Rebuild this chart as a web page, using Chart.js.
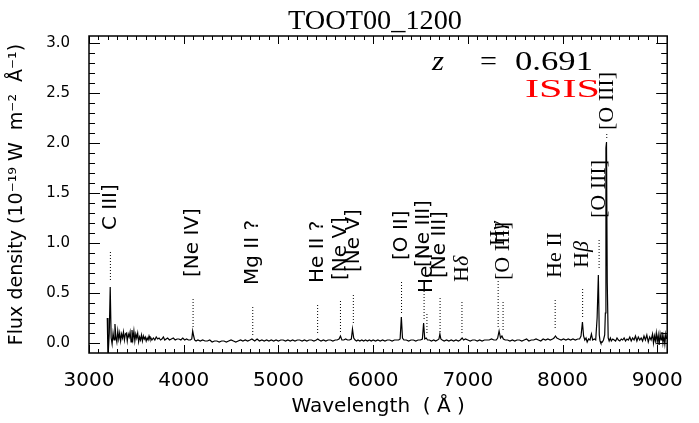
<!DOCTYPE html>
<html>
<head>
<meta charset="utf-8">
<script src="https://cdn.jsdelivr.net/npm/chart.js@4.4.1/dist/chart.umd.min.js"></script>
<style>
  html, body { margin: 0; padding: 0; background: #fff; }
  #spec { display: block; }
</style>
</head>
<body>
<canvas id="spec" width="699" height="423"></canvas>
<script>
// Spectrum: wavelength (Angstrom) and flux (1e-19 W m^-2 A^-1)
const wave = [
  3193, 3200, 3214, 3224, 3234, 3244, 3254, 3264, 3274, 3284,
  3294, 3304, 3314, 3324, 3334, 3344, 3354, 3364, 3374, 3384,
  3394, 3404, 3414, 3424, 3434, 3444, 3454, 3464, 3474, 3484,
  3494, 3504, 3514, 3524, 3534, 3544, 3554, 3564, 3574, 3584,
  3594, 3604, 3614, 3624, 3634, 3644, 3654, 3664, 3680, 3695,
  3710, 3725, 3740, 3755, 3770, 3785, 3800, 3815, 3830, 3850,
  3870, 3890, 3910, 3930, 3950, 3970, 3990, 4010, 4030, 4050,
  4070, 4085, 4095, 4105, 4115, 4130, 4150, 4175, 4200, 4225,
  4250, 4275, 4300, 4325, 4350, 4375, 4400, 4425, 4450, 4475,
  4500, 4525, 4550, 4575, 4600, 4625, 4650, 4675, 4700, 4720,
  4735, 4750, 4775, 4800, 4825, 4850, 4875, 4900, 4925, 4950,
  4975, 5000, 5025, 5050, 5075, 5100, 5125, 5150, 5175, 5200,
  5225, 5250, 5275, 5300, 5325, 5350, 5375, 5400, 5415, 5430,
  5450, 5475, 5500, 5525, 5550, 5575, 5600, 5620, 5640, 5655,
  5670, 5690, 5710, 5730, 5750, 5770, 5782, 5795, 5810, 5825,
  5840, 5860, 5880, 5900, 5920, 5940, 5960, 5980, 6000, 6025,
  6050, 6075, 6100, 6125, 6150, 6175, 6200, 6225, 6250, 6270,
  6285, 6298, 6310, 6325, 6350, 6375, 6400, 6425, 6450, 6475,
  6500, 6520, 6533, 6545, 6560, 6575, 6595, 6615, 6640, 6660,
  6680, 6695, 6705, 6715, 6730, 6750, 6775, 6800, 6825, 6850,
  6875, 6900, 6920, 6940, 6955, 6975, 7000, 7025, 7050, 7075,
  7100, 7125, 7150, 7175, 7200, 7225, 7250, 7275, 7300, 7315,
  7330, 7345, 7360, 7375, 7395, 7420, 7445, 7470, 7495, 7520,
  7545, 7570, 7595, 7620, 7645, 7670, 7695, 7720, 7745, 7770,
  7795, 7820, 7845, 7870, 7895, 7910, 7925, 7940, 7960, 7985,
  8010, 8035, 8060, 8085, 8110, 8135, 8160, 8180, 8195, 8210,
  8222, 8235, 8248, 8260, 8275, 8290, 8305, 8318, 8335, 8350,
  8365, 8378, 8388, 8396, 8405, 8420, 8432, 8445, 8452, 8458,
  8464, 8472, 8482, 8492, 8505, 8515, 8530, 8545, 8560, 8575,
  8590, 8605, 8620, 8635, 8650, 8665, 8680, 8695, 8710, 8725,
  8740, 8755, 8770, 8785, 8800, 8815, 8830, 8845, 8860, 8875,
  8890, 8905, 8920, 8935, 8950, 8960, 8970, 8980, 8990, 9000,
  9010, 9020, 9030, 9040, 9050, 9060, 9070, 9080, 9090, 9100
];
const flux = [
  0.25, -0.15, 0.10, 0.56, 0.05, -0.01, 0.10, 0.03, 0.19, 0.06,
  0.01, 0.12, 0.04, 0.10, 0.02, 0.09, 0.05, 0.11, 0.03, 0.09,
  0.10, 0.02, 0.09, 0.06, 0.11, 0.01, 0.13, 0.04, 0.12, 0.02,
  0.09, 0.05, 0.10, 0.01, 0.06, 0.03, 0.08, 0.02, 0.07, 0.04,
  0.06, 0.02, 0.05, 0.03, 0.07, 0.04, 0.05, 0.03, 0.05, 0.03,
  0.06, 0.04, 0.05, 0.03, 0.04, 0.06, 0.03, 0.04, 0.05, 0.03,
  0.04, 0.05, 0.03, 0.04, 0.04, 0.03, 0.05, 0.03, 0.04, 0.03,
  0.03, 0.04, 0.12, 0.07, 0.03, 0.02, 0.03, 0.02, 0.03, 0.02,
  0.02, 0.03, 0.01, 0.02, 0.02, 0.01, 0.02, 0.02, 0.01, 0.02,
  0.03, 0.02, 0.01, 0.02, 0.03, 0.02, 0.03, 0.02, 0.03, 0.04,
  0.03, 0.02, 0.04, 0.02, 0.03, 0.02, 0.03, 0.02, 0.03, 0.02,
  0.03, 0.02, 0.03, 0.03, 0.02, 0.03, 0.02, 0.03, 0.02, 0.03,
  0.03, 0.02, 0.03, 0.02, 0.03, 0.03, 0.02, 0.03, 0.04, 0.03,
  0.02, 0.03, 0.02, 0.03, 0.03, 0.02, 0.03, 0.03, 0.04, 0.07,
  0.03, 0.03, 0.04, 0.03, 0.03, 0.04, 0.14, 0.05, 0.03, 0.02,
  0.03, 0.02, 0.03, 0.02, 0.03, 0.02, 0.03, 0.02, 0.03, 0.02,
  0.03, 0.02, 0.03, 0.02, 0.03, 0.03, 0.02, 0.03, 0.03, 0.03,
  0.04, 0.26, 0.05, 0.03, 0.03, 0.02, 0.03, 0.03, 0.02, 0.03,
  0.03, 0.04, 0.20, 0.04, 0.05, 0.03, 0.03, 0.02, 0.03, 0.02,
  0.03, 0.04, 0.09, 0.04, 0.03, 0.02, 0.03, 0.02, 0.03, 0.02,
  0.03, 0.02, 0.03, 0.05, 0.03, 0.04, 0.03, 0.02, 0.03, 0.03,
  0.02, 0.03, 0.02, 0.03, 0.03, 0.03, 0.04, 0.03, 0.03, 0.05,
  0.12, 0.05, 0.07, 0.04, 0.03, 0.03, 0.02, 0.03, 0.02, 0.03,
  0.03, 0.02, 0.03, 0.04, 0.02, 0.03, 0.03, 0.04, 0.03, 0.02,
  0.04, 0.03, 0.04, 0.03, 0.04, 0.05, 0.07, 0.05, 0.04, 0.03,
  0.04, 0.03, 0.04, 0.03, 0.04, 0.03, 0.04, 0.04, 0.07, 0.21,
  0.07, 0.03, 0.05, 0.01, 0.04, 0.03, 0.09, 0.03, 0.04, 0.03,
  0.25, 0.68, 0.08, 0.02, 0.00, 0.01, 0.03, 0.08, 0.30, 1.95,
  2.01, 0.60, 0.05, 0.02, 0.05, 0.02, 0.04, 0.03, 0.02, 0.05,
  0.03, 0.02, 0.04, 0.03, 0.05, 0.02, 0.04, 0.03, 0.06, 0.02,
  0.05, 0.03, 0.07, 0.02, 0.06, 0.03, 0.05, 0.02, 0.07, 0.03,
  0.08, 0.01, 0.06, 0.03, 0.09, 0.00, 0.07, 0.02, 0.10, 0.01,
  0.08, -0.02, 0.09, 0.03, 0.11, 0.00, 0.07, -0.01, 0.09, 0.04
];

// Line identifications: dotted marker from markLow to markHigh, label starts at markLabel
const markText  = ['C III]', '[Ne IV]', 'Mg II ?', 'He II ?', '[Ne V]', '[Ne V]', '[O II]', '[Ne III]', 'He I',
                   '[Ne III]', 'Hδ', 'Hγ', '[O III]', 'He II', 'Hβ', '[O III]', '[O III]'];
const markWave  = [3226, 4099, 4729, 5414, 5655, 5791, 6300, 6538, 6568, 6707, 6938, 7320, 7372, 7922, 8212, 8386, 8467];
const markLow   = [0.63, 0.16, 0.08, 0.10, 0.11, 0.20, 0.30, 0.24, 0.10, 0.11, 0.10, 0.16, 0.13, 0.15, 0.26, 0.75, 2.05];
const markHigh  = [0.93, 0.46, 0.38, 0.40, 0.42, 0.50, 0.61, 0.54, 0.30, 0.45, 0.41, 0.63, 0.43, 0.45, 0.56, 1.05, 2.11];
const markLabel = [1.13, 0.66, 0.58, 0.60, 0.63, 0.71, 0.83, 0.76, 0.50, 0.65, 0.61, 0.97, 0.63, 0.65, 0.75, 1.25, 2.13];
const markSerif = [false, false, false, false, false, false, false, false, false, false, true, true, true, true, true, true, true];

const xTicks = [3000, 4000, 5000, 6000, 7000, 8000, 9000];
const yTicks = [0.0, 0.5, 1.0, 1.5, 2.0, 2.5, 3.0];
const xMin = 3000, xMax = 9105, yMin = -0.1, yMax = 3.07;
const xMinorStep = 100, yMinorStep = 0.1;

const titleText = 'TOOT00_1200';
const redshift = '0.691';
const instrument = 'ISIS';

const SANS = '"DejaVu Sans"';
const SERIF = '"Liberation Serif", "Times New Roman", serif';

/**
 * IDL-style box: frame on four sides with inward major and minor ticks.
 */
const frameTicks = {
    id: 'frameTicks',
    afterDraw(chart) {
        const {ctx, chartArea: a, scales: {x, y}} = chart;
        ctx.save();
        ctx.strokeStyle = '#000';
        ctx.lineWidth = 1;
        ctx.beginPath();
        for (let k = 0; xMin + k * xMinorStep <= xMax; k++) {
            const v = xMin + k * xMinorStep;
            const px = Math.round(x.getPixelForValue(v)) + 0.5;
            const len = v % 1000 === 0 ? 8 : 4;
            ctx.moveTo(px, a.bottom); ctx.lineTo(px, a.bottom - len);
            ctx.moveTo(px, a.top); ctx.lineTo(px, a.top + len);
        }
        for (let k = 0; k * yMinorStep <= yMax + 1e-9; k++) {
            const py = Math.round(y.getPixelForValue(k * yMinorStep)) + 0.5;
            const len = k % 5 === 0 ? 11 : 6;
            ctx.moveTo(a.left, py); ctx.lineTo(a.left + len, py);
            ctx.moveTo(a.right, py); ctx.lineTo(a.right - len, py);
        }
        ctx.stroke();
        ctx.lineWidth = 1.5;
        ctx.strokeRect(a.left, a.top, a.right - a.left, a.bottom - a.top);
        ctx.restore();
    }
};

/**
 * Rotated line names above each dotted marker. Greek letters go in italic.
 */
const markLabels = {
    id: 'markLabels',
    afterDatasetsDraw(chart) {
        const {ctx, scales: {x, y}} = chart;
        ctx.save();
        ctx.fillStyle = '#000';
        ctx.textBaseline = 'middle';
        ctx.textAlign = 'left';
        markText.forEach((txt, i) => {
            ctx.save();
            ctx.translate(x.getPixelForValue(markWave[i]), y.getPixelForValue(markLabel[i]));
            ctx.rotate(-Math.PI / 2);
            let dx = 0;
            for (const run of txt.match(/[α-ω]+|[^α-ω]+/g)) {
                const greek = /[α-ω]/.test(run);
                ctx.font = markSerif[i] ? (greek ? 'italic ' : '') + '22px ' + SERIF : '20px ' + SANS;
                ctx.fillText(run, dx, 0);
                dx += ctx.measureText(run).width;
            }
            ctx.restore();
        });
        ctx.restore();
    }
};

/**
 * Title, redshift and instrument texts (wide Hershey-like lettering is imitated by stretching).
 */
const headerText = {
    id: 'headerText',
    afterDraw(chart) {
        const ctx = chart.ctx;
        const stretched = (txt, font, left, base, width, color) => {
            ctx.save();
            ctx.font = font;
            ctx.fillStyle = color;
            const w = ctx.measureText(txt).width;
            ctx.translate(left, base);
            ctx.scale(width / w, 1);
            ctx.fillText(txt, 0, 0);
            ctx.restore();
        };
        ctx.save();
        ctx.textBaseline = 'alphabetic';
        ctx.textAlign = 'left';
        stretched(titleText, '27px ' + SERIF, 288, 29, 174, '#000');
        stretched('z', 'italic 27px ' + SERIF, 432, 70, 12, '#000');
        stretched('=', '27px ' + SERIF, 480, 70, 17, '#000');
        stretched(redshift, '27px ' + SERIF, 515, 70, 78, '#000');
        stretched(instrument, '25px ' + SERIF, 525, 97, 75, '#ff0000');
        ctx.restore();
    }
};

const spectrum = {
    data: wave.map((w, i) => ({x: w, y: flux[i]})),
    borderColor: '#000',
    borderWidth: 1.2,
    pointRadius: 0,
    order: 0
};

const markers = markWave.map((w, i) => ({
    data: [{x: w, y: markLow[i]}, {x: w, y: markHigh[i]}],
    borderColor: '#000',
    borderWidth: 1,
    borderDash: [1, 2],
    pointRadius: 0
}));

new Chart(document.getElementById('spec'), {
    type: 'line',
    data: {datasets: [spectrum, ...markers]},
    options: {
        responsive: false,
        animation: false,
        events: [],
        layout: {padding: {top: 36, right: 17, left: 0, bottom: 0}},
        plugins: {legend: {display: false}, tooltip: {enabled: false}},
        scales: {
            x: {
                type: 'linear',
                min: xMin,
                max: xMax,
                afterBuildTicks: (s) => { s.ticks = xTicks.map(v => ({value: v})); },
                afterFit: (s) => { s.height = 70; },
                ticks: {
                    autoSkip: false, maxRotation: 0, padding: 16, color: '#000',
                    font: {family: 'DejaVu Sans', size: 20},
                    callback: (v) => String(v)
                },
                grid: {drawOnChartArea: false, drawTicks: false, color: 'transparent'},
                border: {display: false},
                title: {
                    display: true, text: 'Wavelength  ( Å )', color: '#000',
                    font: {family: 'DejaVu Sans', size: 20},
                    padding: {top: 0, bottom: 4}
                }
            },
            y: {
                min: yMin,
                max: yMax,
                afterBuildTicks: (s) => { s.ticks = yTicks.map(v => ({value: v})); },
                afterFit: (s) => { s.width = 89; },
                ticks: {
                    padding: 19, color: '#000',
                    font: {family: 'DejaVu Sans', size: 15},
                    callback: (v) => v.toFixed(1)
                },
                grid: {drawOnChartArea: false, drawTicks: false, color: 'transparent'},
                border: {display: false},
                title: {
                    display: true, text: 'Flux density (10⁻¹⁹ W  m⁻²  Å⁻¹)', color: '#000',
                    font: {family: 'DejaVu Sans', size: 19},
                    padding: {top: 6, bottom: 0}
                }
            }
        }
    },
    plugins: [frameTicks, markLabels, headerText]
});
</script>
</body>
</html>
